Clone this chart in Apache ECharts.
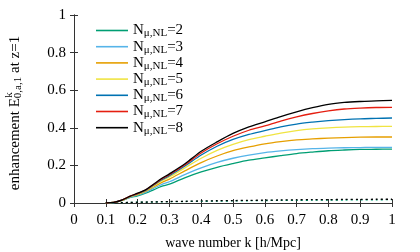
<!DOCTYPE html>
<html><head><meta charset="utf-8">
<script src="https://cdn.jsdelivr.net/npm/echarts@6/dist/echarts.min.js"></script>
<style>html,body{margin:0;padding:0;background:#fff}#c{width:420px;height:252px}</style>
</head><body><div id="c"></div>
<script>
const kValues = [0.1,0.125,0.15,0.175,0.2,0.225,0.25,0.275,0.3,0.35,0.4,0.45,0.5,0.55,0.6,0.65,0.7,0.75,0.8,0.85,0.9,0.95,1.0];
const nLabels = ['2','3','4','5','6','7','8'];
const colors = ['#009e73','#56b4e9','#e69f00','#f0e442','#0072b2','#e51e10','#000000'];
const n2 = [0,0.002,0.012,0.028,0.038,0.052,0.07,0.088,0.1,0.135,0.165,0.19,0.21,0.228,0.24,0.252,0.263,0.271,0.278,0.282,0.285,0.286,0.287];
const n3 = [0,0.002,0.013,0.03,0.042,0.057,0.078,0.098,0.113,0.152,0.187,0.216,0.238,0.255,0.268,0.277,0.284,0.289,0.292,0.294,0.295,0.296,0.296];
const n4 = [0,0.003,0.014,0.032,0.045,0.062,0.085,0.108,0.127,0.172,0.215,0.25,0.278,0.298,0.315,0.327,0.336,0.341,0.345,0.348,0.35,0.351,0.351];
const n5 = [0,0.003,0.014,0.033,0.047,0.065,0.09,0.117,0.138,0.188,0.238,0.28,0.312,0.337,0.355,0.372,0.385,0.394,0.4,0.404,0.406,0.407,0.408];
const n6 = [0,0.003,0.015,0.034,0.049,0.067,0.094,0.122,0.145,0.198,0.255,0.302,0.338,0.365,0.385,0.405,0.42,0.43,0.438,0.444,0.448,0.45,0.452];
const n7 = [0,0.003,0.015,0.035,0.05,0.069,0.097,0.126,0.15,0.205,0.266,0.315,0.355,0.387,0.41,0.436,0.458,0.476,0.49,0.5,0.505,0.508,0.509];
const n8 = [0,0.003,0.015,0.035,0.052,0.07,0.1,0.13,0.155,0.21,0.275,0.325,0.37,0.405,0.432,0.46,0.485,0.507,0.525,0.535,0.54,0.543,0.546];
const linearBlack = [0,0.001,0.002,0.003,0.004,0.005,0.006,0.007,0.008,0.009,0.011,0.012,0.013,0.014,0.015,0.016,0.017,0.018,0.018,0.019,0.019,0.02,0.02];
const linearGreen = [0,0.001,0.002,0.003,0.004,0.004,0.005,0.006,0.007,0.008,0.009,0.01,0.011,0.012,0.013,0.014,0.014,0.015,0.016,0.016,0.017,0.017,0.018];
const xTicks = ['0','0.1','0.2','0.3','0.4','0.5','0.6','0.7','0.8','0.9','1'];
const yTicks = ['0','0.2','0.4','0.6','0.8','1'];
const allSeries = [n2,n3,n4,n5,n6,n7,n8];

const font = 'Liberation Serif';
const axisColor = '#333';
const names = nLabels.map(n => 'N' + n);
const series = allSeries.map((arr, i) => ({
  name: names[i], type: 'line', showSymbol: false, symbol: 'none', smooth: 0.3,
  data: kValues.map((k, j) => [k, arr[j]]),
  lineStyle: {width: 1.3, color: colors[i]}, itemStyle: {color: colors[i]}, z: 3 + i
}));
[[linearGreen, colors[0]], [linearBlack, '#000']].forEach(([arr, c]) => series.push({
  type: 'line', showSymbol: false, symbol: 'none', smooth: 0.3,
  data: kValues.map((k, j) => [k, arr[j]]),
  lineStyle: {width: 1.3, color: c, type: [2, 3]}, itemStyle: {color: c}
}));

const chart = echarts.init(document.getElementById('c'), null, {renderer: 'canvas'});
const tickCommon = {show: true, inside: true, length: 4, lineStyle: {color: axisColor}};
chart.setOption({
  animation: false,
  grid: {left: 74, right: 28, top: 15, bottom: 49, show: false, outerBoundsMode: 'none', containLabel: false},
  legend: {
    data: names.map(n => ({name: n, icon: 'rect'})), orient: 'vertical', left: 91, top: 18,
    itemWidth: 32, itemHeight: 1.6, itemGap: 0.2,
    formatter: name => '{n|N}{s|\u03bc,NL}{n|=' + name.slice(1) + '}',
    textStyle: {fontFamily: font, color: '#000', rich: {
      n: {fontFamily: font, fontSize: 15, lineHeight: 15, color: '#000', verticalAlign: 'top', padding: [0,0,0,0]},
      s: {fontFamily: font, fontSize: 11, lineHeight: 10, color: '#000', padding: [5,0,0,0], verticalAlign: 'top'}
    }}
  },
  graphic: [{
    type: 'text', x: 9, y: 95, rotation: Math.PI / 2,
    style: {text: 'k', font: '11px "Liberation Serif"', fill: '#000', align: 'center', verticalAlign: 'middle'}
  }],
  xAxis: [{
    type: 'value', min: 0, max: 1, interval: 0.1,
    name: 'wave number k [h/Mpc]', nameLocation: 'middle', nameGap: 33,
    nameTextStyle: {fontFamily: font, fontSize: 14, color: '#000'},
    axisLine: {show: true, lineStyle: {color: axisColor}},
    axisTick: tickCommon, splitLine: {show: false},
    axisLabel: {fontFamily: font, fontSize: 15, color: '#000', margin: 10,
      formatter: v => xTicks[Math.round(v * 10)]}
  }, {
    type: 'value', min: 0, max: 1, interval: 0.1, position: 'top',
    axisLine: {show: true, lineStyle: {color: axisColor}}, axisTick: tickCommon,
    axisLabel: {show: false}, splitLine: {show: false}
  }],
  yAxis: [{
    type: 'value', min: 0, max: 1, interval: 0.2,
    name: 'enhancement E{sub|0,a,1} at z=1', nameLocation: 'middle', nameGap: 50, nameRotate: 90,
    nameTextStyle: {fontFamily: font, fontSize: 15, color: '#000', padding: [0, 8, 0, 0], rich: {
      sub: {fontFamily: font, fontSize: 11, color: '#000', padding: [6,0,0,0]}
    }},
    axisLine: {show: true, lineStyle: {color: axisColor}},
    axisTick: tickCommon, splitLine: {show: false},
    axisLabel: {fontFamily: font, fontSize: 15, color: '#000', margin: 8,
      formatter: v => yTicks[Math.round(v * 5)]}
  }, {
    type: 'value', min: 0, max: 1, interval: 0.2, position: 'right',
    axisLine: {show: true, lineStyle: {color: axisColor}}, axisTick: tickCommon,
    axisLabel: {show: false}, splitLine: {show: false}
  }],
  series: series
});
</script></body></html>
